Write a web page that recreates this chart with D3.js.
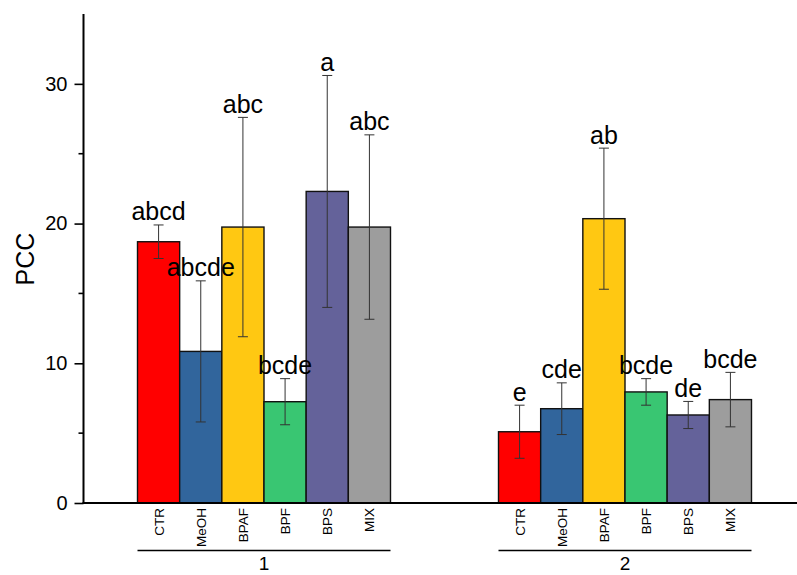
<!DOCTYPE html>
<html>
<head>
<meta charset="utf-8">
<script src="https://cdn.jsdelivr.net/npm/d3@7"></script>
<style>
  body { margin: 0; background: #fff; }
  svg { display: block; font-family: Arial, "Liberation Sans", sans-serif; }
</style>
</head>
<body>
<div id="chart"></div>
<script>
(function() {
  'use strict';

  // Data
  const groups = [1, 2];
  const treatments = ['CTR', 'MeOH', 'BPAF', 'BPF', 'BPS', 'MIX'];
  const colors = ['#ff0000', '#31659c', '#ffc812', '#39c672', '#64629a', '#9d9d9d'];
  const means1 = [18.7, 10.85, 19.75, 7.25, 22.3, 19.75];
  const errors1 = [1.2, 5.05, 7.85, 1.65, 8.3, 6.6];
  const letters1 = ['abcd', 'abcde', 'abc', 'bcde', 'a', 'abc'];
  const means2 = [5.1, 6.75, 20.35, 7.95, 6.3, 7.4];
  const errors2 = [1.9, 1.85, 5.05, 0.95, 0.97, 1.95];
  const letters2 = ['e', 'cde', 'ab', 'bcde', 'de', 'bcde'];
  const yTicks = [0, 10, 20, 30];
  const yMinor = [5, 15, 25];

  const width = 797, height = 575;
  const barW = 0.1168; // in x units

  const svg = d3.select('#chart').append('svg')
    .attr('width', width)
    .attr('height', height);

  const x = d3.scaleLinear().domain([0.5, 2.5]).range([83.5, 805.5]);
  const y = d3.scaleLinear().domain([0, 35]).range([503, 14]);

  // Flatten rows
  const rows = [];
  [[means1, errors1, letters1], [means2, errors2, letters2]].forEach(function(set, gi) {
    treatments.forEach(function(t, i) {
      rows.push({
        group: groups[gi], name: t, i: i,
        value: set[0][i], err: set[1][i], letter: set[2][i],
        color: colors[i]
      });
    });
  });

  function left(d) { return x(d.group + (d.i - 3) * barW); }
  function center(d) { return x(d.group + (d.i - 2.5) * barW); }

  // Bars
  svg.append('g').selectAll('rect')
    .data(rows).enter().append('rect')
    .attr('x', left)
    .attr('width', function(d) { return x(d.group + barW) - x(d.group); })
    .attr('y', function(d) { return y(d.value); })
    .attr('height', function(d) { return y(0) - y(d.value); })
    .attr('fill', function(d) { return d.color; })
    .attr('stroke', '#111')
    .attr('stroke-width', 1.4);

  // Error bars
  const eb = svg.append('g').attr('stroke', '#333').attr('stroke-width', 1);
  rows.forEach(function(d) {
    const cx = center(d);
    eb.append('line').attr('x1', cx).attr('x2', cx)
      .attr('y1', y(d.value + d.err)).attr('y2', y(d.value - d.err));
    [d.value + d.err, d.value - d.err].forEach(function(v) {
      eb.append('line').attr('x1', cx - 5).attr('x2', cx + 5)
        .attr('y1', y(v)).attr('y2', y(v));
    });
  });

  // Significance letters
  svg.append('g').selectAll('text')
    .data(rows).enter().append('text')
    .attr('x', center)
    .attr('y', function(d) { return y(d.value + d.err) - 4.5; })
    .attr('text-anchor', 'middle')
    .attr('font-size', 25)
    .attr('fill', '#000')
    .text(function(d) { return d.letter; });

  // Y axis
  const yAxis = svg.append('g').attr('transform', 'translate(83.5,0)');
  yAxis.call(d3.axisLeft(y).tickValues(yTicks).tickSize(9).tickPadding(7));
  yAxis.selectAll('.tick text').attr('font-size', 20).attr('fill', '#000')
    .attr('font-family', 'Arial, "Liberation Sans", sans-serif');
  yAxis.selectAll('.tick line').attr('stroke', '#000').attr('stroke-width', 1.6);
  yAxis.select('.domain').remove();
  yAxis.append('line').attr('x1', 0).attr('x2', 0)
    .attr('y1', y(35)).attr('y2', y(0))
    .attr('stroke', '#000').attr('stroke-width', 2);
  yAxis.selectAll('.minor').data(yMinor).enter().append('line')
    .attr('class', 'minor')
    .attr('x1', -5).attr('x2', 0)
    .attr('y1', function(d) { return y(d); }).attr('y2', function(d) { return y(d); })
    .attr('stroke', '#000').attr('stroke-width', 1.6);

  // X axis line
  svg.append('line')
    .attr('x1', 82.5).attr('x2', width)
    .attr('y1', y(0)).attr('y2', y(0))
    .attr('stroke', '#000').attr('stroke-width', 2);

  // Category labels (rotated)
  svg.append('g').selectAll('text')
    .data(rows).enter().append('text')
    .attr('transform', function(d) {
      return 'translate(' + (center(d) + 5) + ',508) rotate(-90)';
    })
    .attr('text-anchor', 'end')
    .attr('font-size', 13.5)
    .attr('fill', '#000')
    .text(function(d) { return d.name; });

  // Group brackets and labels
  const gl = svg.append('g');
  groups.forEach(function(g) {
    gl.append('line')
      .attr('x1', x(g - 3 * barW)).attr('x2', x(g + 3 * barW))
      .attr('y1', 550.5).attr('y2', 550.5)
      .attr('stroke', '#000').attr('stroke-width', 1.6);
    gl.append('text')
      .attr('x', x(g)).attr('y', 570)
      .attr('text-anchor', 'middle')
      .attr('font-size', 19)
      .text(g);
  });

  // Y axis title
  svg.append('text')
    .attr('transform', 'translate(33.5,259) rotate(-90)')
    .attr('text-anchor', 'middle')
    .attr('font-size', 25)
    .text('PCC');
})();
</script>
</body>
</html>
